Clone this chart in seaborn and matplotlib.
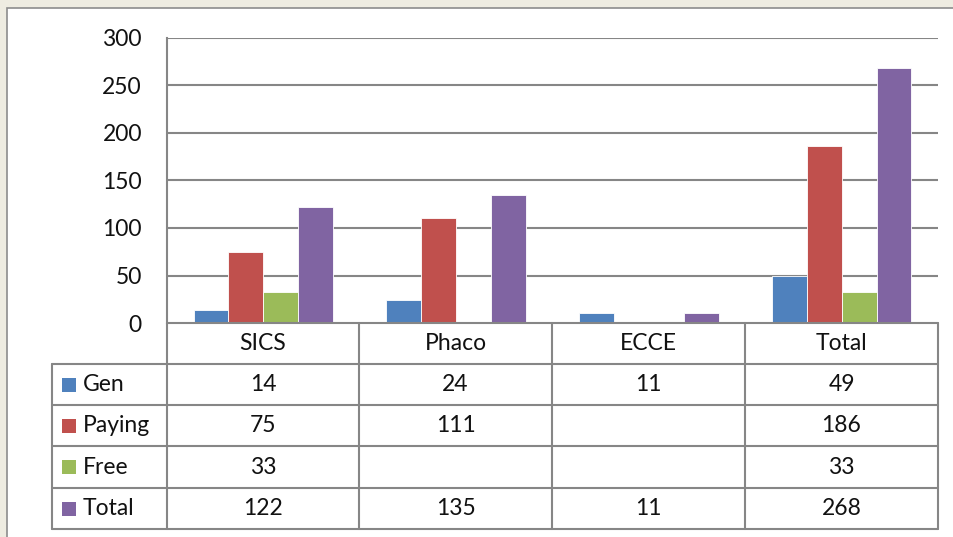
import matplotlib
matplotlib.use("Agg")
import matplotlib.pyplot as plt
import seaborn as sns
import pandas as pd
import numpy as np
from matplotlib.patches import Rectangle
from matplotlib.lines import Line2D

categories = ["SICS", "Phaco", "ECCE", "Total"]
series = ["Gen", "Paying", "Free", "Total"]
gen = [14, 24, 11, 49]
paying = [75, 111, None, 186]
free = [33, None, None, 33]
total = [122, 135, 11, 268]
yticks = [0, 50, 100, 150, 200, 250, 300]
colors = ["#4F81BD", "#C0504D", "#9BBB59", "#8064A2"]

values = [gen, paying, free, total]
rows = []
for s, vals in zip(series, values):
    for c, v in zip(categories, vals):
        rows.append({"cat": c, "series": s, "val": np.nan if v is None else v})
df = pd.DataFrame(rows)

sns.set_theme(style="white")
plt.rcParams["font.family"] = ["Lato", "DejaVu Sans"]

W, H = 954, 537
fig = plt.figure(figsize=(W / 100, H / 100), dpi=100)
fig.patch.set_facecolor("#EEECE1")

def fx(x):
    return x / W

def fy(y):
    return 1 - y / H

# white panel
fig.patches.append(Rectangle((fx(7), fy(560)), fx(1000), (560 - 8) / H,
                             transform=fig.transFigure, facecolor="white",
                             edgecolor="#8C8C8C", linewidth=1.2, zorder=-5))

left, right, top, bottom = 167, 938, 38, 323
ax = fig.add_axes([fx(left), fy(bottom), fx(right - left), (bottom - top) / H])
ax.set_zorder(2)
ax.set_facecolor("none")
sns.barplot(data=df, x="cat", y="val", hue="series", order=categories,
            hue_order=series, palette=colors, width=0.725, gap=0,
            edgecolor="white", linewidth=0.6, ax=ax, legend=False, zorder=3,
            saturation=1)
ax.set_ylim(0, 300)
ax.set_xlim(-0.5, 3.5)
ax.set_yticks(yticks)
fs = 16.5
ax.set_yticklabels([str(t) for t in yticks], fontsize=fs, color="#111111")
ax.tick_params(axis="y", length=0, pad=18)
ax.set_xticks([])
ax.set_xlabel("")
ax.set_ylabel("")
for t in yticks[1:]:
    ax.axhline(t, color="#868686", linewidth=1.5, zorder=1)
for sp in ["top", "right", "bottom"]:
    ax.spines[sp].set_visible(False)
ax.spines["left"].set_color("#868686")
ax.spines["left"].set_linewidth(1.5)

# data table
lc = "#868686"
lw = 1.5
col_x = [167, 359, 552, 745, 938]
row_y = [323, 364, 405, 446, 488, 529]

def hline(x0, x1, y):
    fig.lines.append(Line2D([fx(x0), fx(x1)], [fy(y), fy(y)], transform=fig.transFigure,
                            color=lc, linewidth=lw, zorder=5))

def vline(x, y0, y1):
    fig.lines.append(Line2D([fx(x), fx(x)], [fy(y0), fy(y1)], transform=fig.transFigure,
                            color=lc, linewidth=lw, zorder=5))

hline(167, 938, 323)
for y in row_y[1:]:
    hline(52, 938, y)
for x in col_x:
    vline(x, 323, 529)
vline(52, 364, 529)

tc = "#111111"
for i, c in enumerate(categories):
    cx = (col_x[i] + col_x[i + 1]) / 2
    fig.text(fx(cx), fy((row_y[0] + row_y[1]) / 2), c, ha="center", va="center",
             fontsize=fs, color=tc)

for r, (s, vals, col) in enumerate(zip(series, values, colors)):
    cy = (row_y[r + 1] + row_y[r + 2]) / 2
    fig.patches.append(Rectangle((fx(62), fy(cy + 7)), fx(14), 14 / H,
                                 transform=fig.transFigure, facecolor=col,
                                 edgecolor="none", zorder=6))
    fig.text(fx(83), fy(cy), s, ha="left", va="center", fontsize=fs, color=tc)
    for i, v in enumerate(vals):
        if v is None:
            continue
        cx = (col_x[i] + col_x[i + 1]) / 2
        fig.text(fx(cx), fy(cy), str(v), ha="center", va="center", fontsize=fs, color=tc)

fig.savefig("out.png", dpi=100, facecolor=fig.get_facecolor())
